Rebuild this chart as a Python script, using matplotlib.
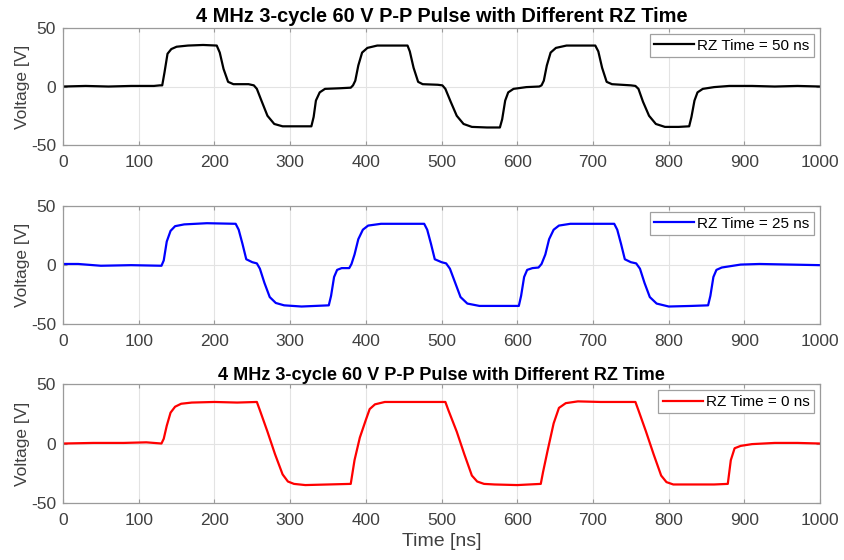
import matplotlib
matplotlib.use('Agg')
import matplotlib.pyplot as plt

# RZ time = 50 ns (black)
t50 = [0, 30, 60, 90, 120, 128, 131, 134, 138, 143, 150, 165, 185, 203, 207,
       212, 218, 225, 245, 252, 256, 262, 270, 279, 290, 310, 328, 331, 334, 339,
       346, 365, 380, 383, 386, 390, 395, 402, 415, 435, 455, 458, 463, 469, 475,
       495, 501, 505, 512, 520, 529, 540, 560, 577, 580, 584, 588, 595, 612, 629,
       632, 635, 639, 644, 651, 665, 685, 703, 707, 712, 718, 725, 750, 756, 760,
       766, 774, 783, 795, 813, 827, 830, 834, 838, 845, 860, 880, 910, 940, 970,
       1000]
v50 = [0, 0.5, 0, 0.5, 0.5, 1, 1, 12, 28, 32, 34, 35, 35.5, 35, 29,
       15, 4, 2, 2, 1, -2, -12, -25, -32, -34, -34, -34, -26, -12, -5,
       -2, -1.5, -1, 1, 5, 18, 29, 33, 35, 35, 35, 30, 16, 4, 2,
       1.5, 1, -2, -13, -25, -32, -34.5, -35, -35, -28, -12, -5, -2, -0.5, 0,
       1, 5, 18, 29, 33, 35, 35, 35, 30, 16, 4, 2, 1, 0.5, -2,
       -13, -25, -32, -34.5, -34.5, -34, -26, -12, -5, -2, -0.5, 0.5, 0.5, 0, 0.5,
       0]

# RZ time = 25 ns (blue)
t25 = [0, 20, 50, 90, 130, 133, 137, 142, 148, 160, 190, 228, 232, 237, 242,
       250, 256, 260, 266, 273, 281, 292, 315, 351, 354, 358, 362, 368, 378, 381,
       385, 390, 396, 403, 420, 450, 477, 481, 486, 491, 500, 506, 511, 518, 525,
       534, 550, 580, 602, 605, 609, 613, 620, 628, 632, 637, 642, 648, 655, 670,
       700, 728, 732, 737, 742, 750, 757, 762, 768, 775, 784, 800, 830, 852, 855,
       859, 863, 870, 880, 895, 920, 960, 1000]
v25 = [1, 1, -0.5, 0, -0.5, 4, 20, 29, 33, 34.5, 35.5, 35, 30, 18, 5,
       2.5, 1.5, -3, -15, -27, -32, -34, -35, -34, -26, -10, -4, -2.5, -2.5, 1,
       9, 22, 30, 33.5, 35, 35, 35, 30, 18, 5, 2.5, 1.5, -3, -15, -27,
       -32.5, -34.5, -34.5, -34.5, -26, -10, -4, -2.5, -2, 1, 9, 22, 30, 33.5, 35,
       35, 35, 30, 18, 5, 2.5, 1.5, -3, -15, -27, -32.5, -35, -34.5, -34, -26,
       -10, -4, -2, -1, 0.5, 1, 0.5, 0]

# RZ time = 0 ns (red)
t0 = [0, 40, 80, 110, 130, 133, 137, 142, 148, 156, 170, 200, 230, 256, 260,
      270, 280, 290, 297, 305, 320, 350, 380, 385, 392, 400, 405, 412, 425, 450,
      480, 505, 509, 520, 530, 540, 547, 556, 570, 600, 631, 634, 640, 648, 655,
      664, 680, 710, 735, 756, 760, 770, 780, 790, 797, 806, 830, 860, 878, 882,
      887, 895, 910, 940, 970, 1000]
v0 = [0, 0.5, 0.5, 1, 0, 4, 15, 26, 31, 33.5, 34.5, 35, 34.5, 35, 28,
      10, -9, -26, -32, -34, -35, -34.5, -34, -14, 5, 20, 29, 33, 35, 35,
      35, 35, 28, 10, -9, -27, -32, -34, -34.5, -35, -34, -24, -6, 17, 30,
      34, 35.5, 35, 35, 35, 28, 10, -9, -27, -32.5, -34.5, -34.5, -34.5, -34, -14,
      -4, -2, -0.5, 0.5, 0.5, 0]

x_ticks = [0, 100, 200, 300, 400, 500, 600, 700, 800, 900, 1000]
y_ticks = [-50, 0, 50]
title = '4 MHz 3-cycle 60 V P-P Pulse with Different RZ Time'

plt.rcParams['font.family'] = ['Liberation Sans', 'DejaVu Sans']
plt.rcParams['axes.unicode_minus'] = False

fig = plt.figure(figsize=(8.45, 5.6), dpi=100)

# axes boxes in figure fractions: [left, bottom, width, height]
boxes = [[0.0746, 0.741, 0.896, 0.209],
         [0.0746, 0.421, 0.896, 0.211],
         [0.0746, 0.102, 0.896, 0.212]]
series = [(t50, v50, 'k', 'RZ Time = 50 ns'),
          (t25, v25, '#0000ff', 'RZ Time = 25 ns'),
          (t0, v0, '#ff0000', 'RZ Time = 0 ns')]

for i, (box, (t, v, c, lab)) in enumerate(zip(boxes, series)):
    ax = fig.add_axes(box)
    ax.plot(t, v, color=c, lw=1.6, label=lab)
    ax.set_xlim(0, 1000)
    ax.set_ylim(-50, 50)
    ax.set_xticks(x_ticks)
    ax.set_yticks(y_ticks)
    ax.grid(True, color='#e3e3e3', lw=0.8)
    ax.set_axisbelow(True)
    for s in ax.spines.values():
        s.set_color('#9a9a9a')
        s.set_linewidth(0.9)
    ax.tick_params(direction='in', length=3, color='#9a9a9a', labelsize=12.5,
                   labelcolor='#404040', top=True, right=True, pad=5)
    ax.tick_params(axis='x', pad=7)
    ax.set_ylabel('Voltage [V]', fontsize=12.5, color='#404040', labelpad=1)
    leg = ax.legend(loc='upper right', fontsize=11, fancybox=False,
                    framealpha=1, edgecolor='#a0a0a0', handlelength=2.6,
                    borderpad=0.3, handletextpad=0.2, borderaxespad=0.4)
    leg.get_frame().set_linewidth(0.9)
    if i == 0:
        ax.set_title(title, fontsize=14.4, fontweight='bold', pad=4)
    if i == 2:
        ax.set_title(title, fontsize=13.1, fontweight='bold', pad=3)
        ax.set_xlabel('Time [ns]', fontsize=14, color='#404040', labelpad=4)

fig.savefig('out.png', dpi=100)
